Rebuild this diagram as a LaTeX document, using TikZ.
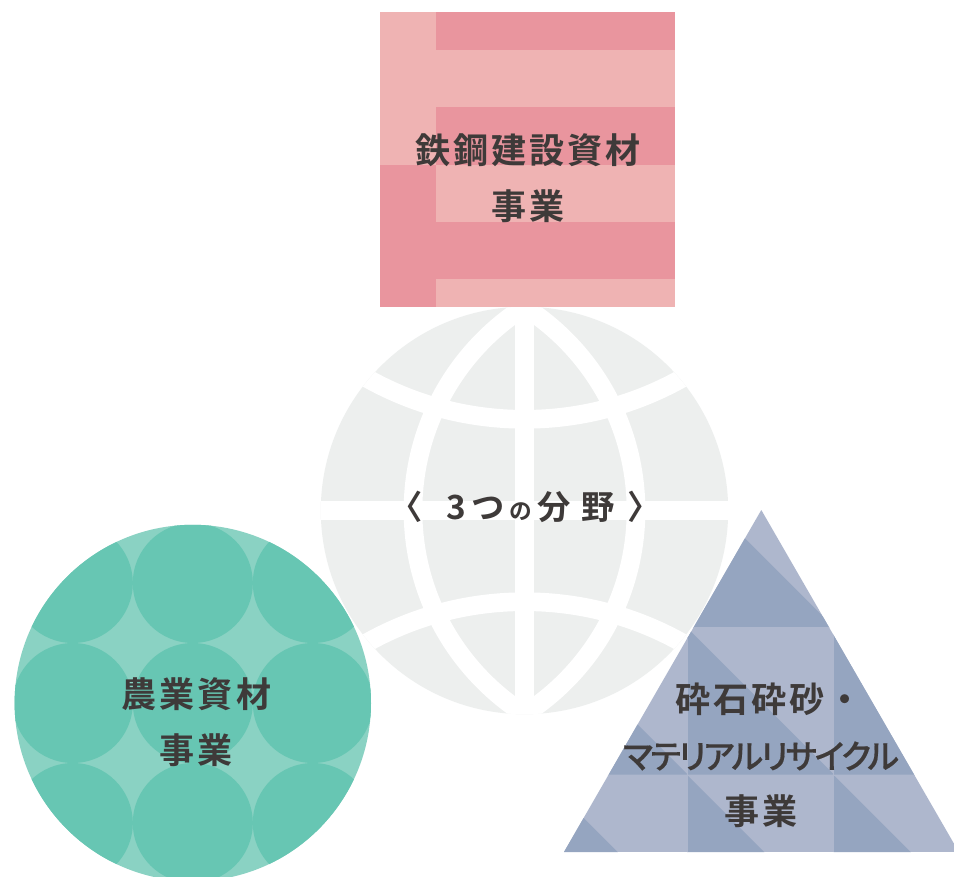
\documentclass[tikz,border=0pt]{standalone}
\usepackage{fontspec}
\setmainfont{Noto Sans CJK JP Bold}[LetterSpace=8.5]
\newfontfamily\katafont{Noto Sans CJK JP Medium}[RawFeature={+palt},LetterSpace=-7,FakeBold=0.4]
\newfontfamily\titlefont{Noto Sans CJK JP Bold}[RawFeature={+palt}]
\definecolor{inkc}{HTML}{3E3A39}
\definecolor{pinkd}{HTML}{E9959E}
\definecolor{pinkl}{HTML}{EFB3B3}
\definecolor{greend}{HTML}{67C6B3}
\definecolor{greenl}{HTML}{8AD2C3}
\definecolor{blued}{HTML}{95A5C0}
\definecolor{bluel}{HTML}{AEB7CD}
\definecolor{globec}{HTML}{EDEFEE}
\tikzset{
  label text/.style={text=inkc,align=center,inner sep=0pt,font=\fontsize{26.3pt}{42pt}\selectfont},
  globe line/.style={draw=white,line width=14pt},
}
\begin{document}
\begin{tikzpicture}[x=0.75pt,y=-0.75pt]
\clip (0,0) rectangle (954,877);
\fill[white] (0,0) rectangle (954,877);
% globe
\begin{scope}
  \clip (524.5,510.5) circle[radius=203.7];
  \fill[globec] (320,306) rectangle (729,715);
  \draw[globe line] (654.5,510.5) circle[radius=241.5];
  \draw[globe line] (394.5,510.5) circle[radius=241.5];
  \draw[globe line] (524.5,96.7) circle[radius=322.6];
  \draw[globe line] (524.5,924.3) circle[radius=322.6];
  \draw[globe line] (524.5,306) -- (524.5,715);
  \draw[globe line] (320,510.5) -- (729,510.5);
\end{scope}
% pink square
\fill[pinkl] (380,12) rectangle (675,307);
\fill[pinkd] (436,12) rectangle (675,50);
\fill[pinkd] (436,107) rectangle (675,165);
\fill[pinkd] (436,222) rectangle (675,279);
\fill[pinkd] (380,165) rectangle (436,307);
% green circle
\begin{scope}
  \clip (192.8,703) circle[radius=178.2];
  \fill[greenl] (14,524) rectangle (372,882);
  \foreach \cx in {72.8,192.8,312.8}
    \foreach \cy in {583,703,823}
      \fill[greend] (\cx,\cy) circle[radius=60];
\end{scope}
% blue triangle
\begin{scope}
  \clip (761.3,510) -- (958.8,852) -- (564,852) -- cycle;
  \fill[bluel] (540,480) rectangle (980,852);
  \foreach \tx in {540.7,687,833.5}
    \foreach \ty in {480.4,627.7,775}
      \fill[blued] (\tx,\ty) -- (\tx,\ty+147) -- (\tx+147,\ty+147) -- cycle;
  \draw[bluel,line width=0.5pt] (687,480) -- (687,852) (833.5,480) -- (833.5,852)
     (540,627.7) -- (980,627.7) (540,775) -- (980,775);
\end{scope}
% labels
\node[label text] (steel) at (528,178) {鉄鋼建設資材\\事業};
\node[label text] (agri) at (196.5,722) {農業資材\\事業};
\node[label text,anchor=west] (stone1) at (675,699) {砕石砕砂・};
\node[label text,font=\fontsize{25pt}{42pt}\selectfont\katafont] (stone2) at (761,756) {マテリアルリサイクル};
\node[label text] (stone3) at (761.5,811) {事業};
\node[label text,anchor=west,font=\fontsize{25pt}{30pt}\selectfont\titlefont] (title) at (405,507)
  {〈\kern 18.8pt 3\kern 4pt つ\kern 4.5pt {\fontsize{17pt}{30pt}\selectfont の}\kern 4.5pt 分\kern 7.5pt 野\kern 11pt 〉};
\end{tikzpicture}
\end{document}
